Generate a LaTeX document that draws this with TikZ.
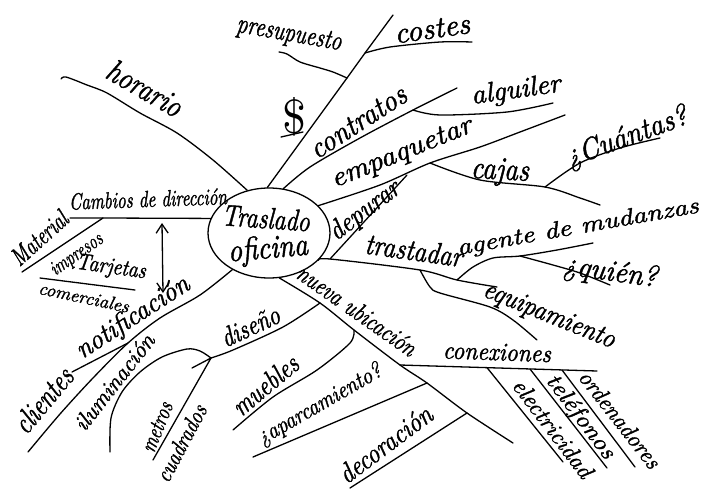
\documentclass[tikz,border=0pt]{standalone}
\usepackage{graphicx}
\usepackage{fontspec}
\usetikzlibrary{shapes.geometric,arrows.meta}
% pen-like script: Latin Modern italic, slightly emboldened
\newfontfamily\handfont{lmroman10-italic.otf}[FakeBold=1.5]
% handwritten-looking label: #1 = width (pt), #2 = x-height (pt), #3 = text
\newlength\hwlen
\newcommand{\hw}[3]{%
  \settowidth{\hwlen}{\handfont #3}%
  \scalebox{\fpeval{round(#1/\hwlen,4)}}[\fpeval{round(#2/4.305,4)}]{\handfont #3}}
\tikzset{
  pen/.style={line width=1.3pt, line cap=round, line join=round},
  lbl/.style={inner sep=0pt, anchor=center},
  hub/.style={draw, ellipse, pen, minimum width=122pt, minimum height=90pt, inner sep=0pt},
  twoway/.style={pen, {Straight Barb[length=9pt,width=12pt]}-{Straight Barb[length=9pt,width=12pt]}},
}
\begin{document}
\begin{tikzpicture}[x=1pt,y=-1pt]
\fill[white] (0,0) rectangle (705,488);
\useasboundingbox (0,0) rectangle (705,488);

% central topic
\node[hub] (C) at (269,233) {};
\node[lbl, rotate=-4] (t1) at (266,218) {\hw{88}{13}{Traslado}};
\node[lbl, rotate=5] (t2) at (268,250) {\hw{80}{14}{oficina}};

% horario
\coordinate (h1) at (61,79);
\draw[pen] plot[smooth] coordinates {(C.117) (213,160) (177,133) (140,113) (107,93) (87,85) (66,77) (h1)};
\node[lbl, rotate=-30] (hor) at (145,88) {\hw{82}{14}{horario}};

% costes / presupuesto / $
\coordinate (k1) at (347,78);
\coordinate (k2) at (365,53);
\coordinate (k3) at (393,15);
\coordinate (k4) at (472,42);
\coordinate (k5) at (279,52);
\draw[pen] (C.92) -- (k1) -- (k2) -- (k3);
\draw[pen] plot[smooth] coordinates {(k2) (390,47) (440,42) (k4)};
\draw[pen] plot[smooth] coordinates {(k1) (333,72) (320,68) (300,62) (287,54) (k5)};
\node[lbl, rotate=8] (cos) at (432,29) {\hw{76}{13}{costes}};
\node[lbl, rotate=-10] (pre) at (289,35) {\hw{106}{12}{presupuesto}};
\node[lbl] (usd) at (294,117) {\resizebox{!}{36pt}{\$}};
\coordinate (u1) at (281,137);
\coordinate (u2) at (303,132);
\draw[pen] (u1) -- (u2);

% contratos / alguiler
\coordinate (c1) at (413,110);
\coordinate (c2) at (457,88);
\coordinate (c3) at (553,103);
\draw[pen] plot[smooth] coordinates {(C.72) (310,167) (360,138) (c1) (c2)};
\draw[pen] plot[smooth] coordinates {(c1) (440,115) (507,112) (c3)};
\node[lbl, rotate=33] (con) at (358,122) {\hw{110}{13}{contratos}};
\node[lbl, rotate=8] (alq) at (516,91) {\hw{90}{12}{alguiler}};

% empaquetar / cajas / cuantas
\coordinate (e1) at (430,163);
\coordinate (e2) at (565,115);
\coordinate (j1) at (545,187);
\coordinate (j2) at (600,205);
\coordinate (j3) at (660,138);
\draw[pen] plot[smooth] coordinates {(C.29) (380,185) (e1) (480,147) (520,132) (e2)};
\draw[pen] plot[smooth] coordinates {(e1) (480,180) (j1) (580,198) (j2)};
\draw[pen] plot[smooth] coordinates {(j1) (580,163) (620,148) (j3)};
\node[lbl, rotate=22] (emp) at (402,154) {\hw{150}{12}{empaquetar}};
\node[lbl, rotate=-3] (caj) at (500,172) {\hw{58}{14}{cajas}};
\node[lbl, rotate=20] (cua) at (627,138) {\hw{128}{13}{¿Cuántas?}};

% trastadar / depurar / agente / quien / equipamiento
\coordinate (r0) at (330,259);
\coordinate (r1) at (420,270);
\coordinate (r2) at (457,280);
\coordinate (r3) at (497,287);
\coordinate (dp) at (407,175);
\coordinate (a1) at (520,256);
\coordinate (a2) at (593,243);
\coordinate (q1) at (610,285);
\coordinate (q2) at (537,340);
\draw[pen] plot[smooth] coordinates {(C.-29) (r0) (r1) (r2) (r3)};
\draw[pen] (r0) -- (dp);
\draw[pen] plot[smooth] coordinates {(r2) (473,267) (493,258) (a1) (557,250) (a2)};
\draw[pen] plot[smooth] coordinates {(a1) (553,265) (580,273) (q1)};
\draw[pen] plot[smooth] coordinates {(r1) (430,287) (440,293) (490,307) (513,320) (q2)};
\node[lbl, rotate=37] (dep) at (365,211) {\hw{82}{12}{depurar}};
\node[lbl, rotate=-8] (tra) at (414,250) {\hw{98}{13}{trastadar}};
\node[lbl, rotate=10] (age) at (578,228) {\hw{245}{10}{agente de mudanzas}};
\node[lbl, rotate=-8] (qui) at (610,273) {\hw{95}{13}{¿quién?}};
\node[lbl, rotate=-22] (equ) at (549,316) {\hw{140}{12}{equipamiento}};

% nueva ubicacion and its branches
\coordinate (n0) at (320,303);
\coordinate (n1) at (354,330);
\coordinate (n2) at (400,365);
\coordinate (n3) at (427,383);
\coordinate (n4) at (467,413);
\coordinate (n5) at (513,443);
\draw[pen] plot[smooth] coordinates {(C.-77) (n0) (n1) (n2) (n3) (n4) (n5)};
\node[lbl, rotate=-35] (nue) at (357,310) {\hw{140}{11}{nueva ubicación}};

% conexiones
\coordinate (x0) at (597,371);
\coordinate (x1) at (487,367.6);
\coordinate (x2) at (530,369);
\coordinate (x3) at (562,370);
\coordinate (y1) at (563,462);
\coordinate (y2) at (607,468);
\coordinate (y3) at (635,467);
\draw[pen] (n2) -- (x0);
\draw[pen] (x1) -- (y1);
\draw[pen] (x2) -- (y2);
\draw[pen] (x3) -- (y3);
\node[lbl, rotate=-2] (cnx) at (497,352) {\hw{108}{11}{conexiones}};
\node[lbl, rotate=-53] (ele) at (553,428) {\hw{118}{10}{electricidad}};
\node[lbl, rotate=-53] (tel) at (580,417) {\hw{100}{10}{teléfonos}};
\node[lbl, rotate=-52] (ord) at (620,419) {\hw{118}{10}{ordenadores}};

% aparcamiento / decoracion
\coordinate (p1) at (253,457);
\coordinate (p2) at (350,488);
\draw[pen] (n3) -- (p1);
\draw[pen] (n4) -- (p2);
\node[lbl, rotate=30] (apa) at (320,405) {\hw{140}{10}{¿aparcamiento?}};
\node[lbl, rotate=37] (dec) at (385,444) {\hw{110}{12}{decoración}};

% muebles
\coordinate (mb) at (233,430);
\draw[pen] plot[smooth] coordinates {(n1) (350,343) (317,370) (273,397) (mb)};
\node[lbl, rotate=40] (mue) at (265,385) {\hw{78}{12}{muebles}};

% diseno / iluminacion / metros cuadrados
\coordinate (d1) at (211,358);
\coordinate (d2) at (192,368);
\coordinate (d3) at (153,460);
\coordinate (il) at (110,452);
\draw[pen] plot[smooth] coordinates {(n0) (283,327) (233,350) (d1)};
\draw[pen] plot[smooth] coordinates {(d1) (200,351) (187,349) (162,357) (140,372) (122,392) (111,418) (il)};
\draw[pen] (d2) -- (d1) -- (d3);
\node[lbl, rotate=25] (dis) at (250,326) {\hw{62}{12}{diseño}};
\node[lbl, rotate=52] (ilu) at (114,382) {\hw{116}{10}{iluminación}};
\node[lbl, rotate=68] (met) at (157,427) {\hw{52}{10}{metros}};
\node[lbl, rotate=62] (cua2) at (181,443) {\hw{84}{10}{cuadrados}};

% notificacion / clientes
\coordinate (m1) at (128,343);
\coordinate (m2) at (28,452);
\coordinate (m3) at (72,372);
\draw[pen] plot[smooth] coordinates {(C.-135) (200,295) (160,318) (m1) (93,378) (60,414) (m2)};
\draw[pen] (m1) -- (m3);
\node[lbl, rotate=33] (not) at (133,318) {\hw{130}{12}{notificación}};
\node[lbl, rotate=50] (cli) at (43,400) {\hw{76}{13}{clientes}};

% cambios de direccion / material
\coordinate (b1) at (103,218);
\coordinate (b2) at (70,218);
\coordinate (b3) at (22,272);
\coordinate (tj1) at (40,278);
\coordinate (tj2) at (135,290);
\coordinate (ar1) at (162,223);
\coordinate (ar2) at (163,293);
\draw[pen] (C.166) -- (b1) -- (b2);
\draw[pen] (b1) -- (b3);
\draw[pen] (tj1) -- (tj2);
\draw[twoway] (ar1) -- (ar2);
\node[lbl, rotate=2] (cam) at (148,199) {\hw{158}{10}{Cambios de dirección}};
\node[lbl, rotate=42] (mat) at (39,238) {\hw{68}{11}{Material}};
\node[lbl, rotate=35] (imp) at (77,255) {\hw{60}{9}{impresos}};
\node[lbl, rotate=-8] (tar) at (111,268) {\hw{70}{10}{Tarjetas}};
\node[lbl, rotate=-12] (com) at (84,297) {\hw{92}{8}{comerciales}};
\end{tikzpicture}
\end{document}
